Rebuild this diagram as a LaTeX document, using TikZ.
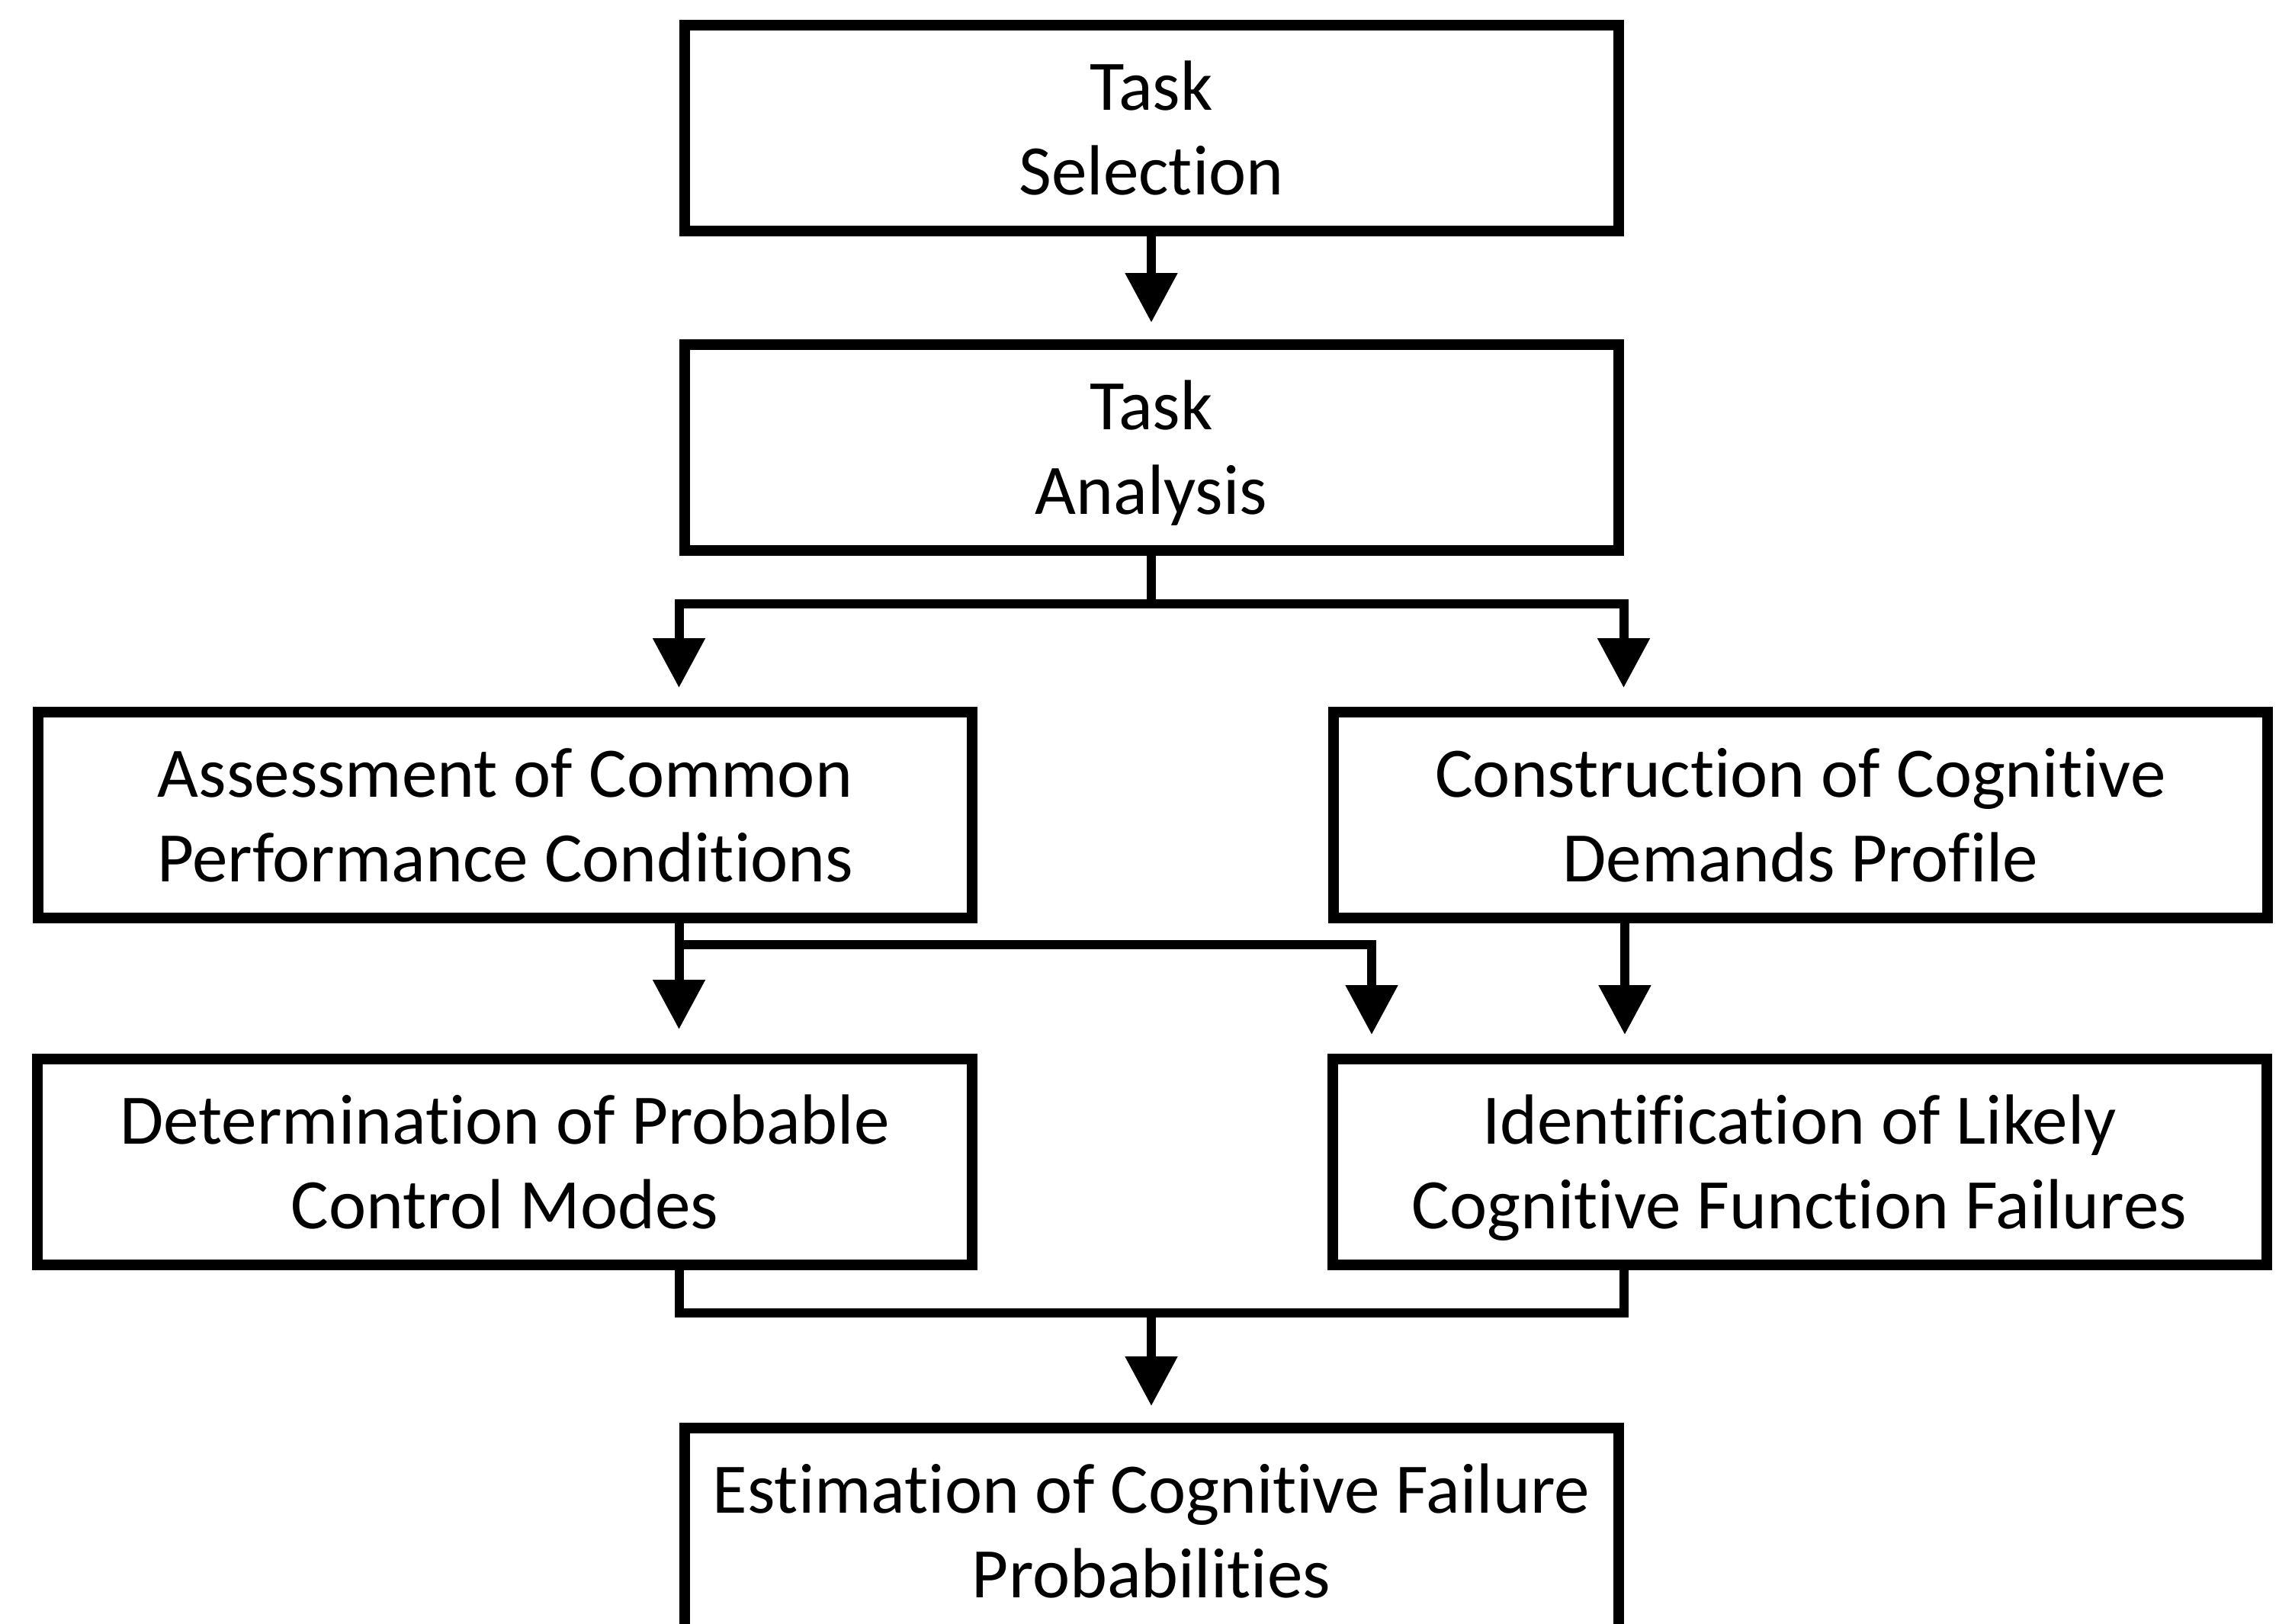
\documentclass[tikz,border=0pt]{standalone}
\usepackage{fontspec}
\setmainfont{Carlito}[Ligatures=NoCommon]
\usetikzlibrary{arrows.meta}

\begin{document}
\begin{tikzpicture}[font=\fontsize{26.5}{31.6}\selectfont,
    stage/.style={draw, line width=0.14cm, minimum width=12.25cm, minimum height=2.7cm, align=center, inner sep=0pt, text depth=0pt},
    link/.style={line width=0.12cm},
    flow/.style={link, -{Triangle[width=0.66cm,length=0.65cm]}, shorten >=0.22cm}]
  \clip (0,0) rectangle (29.89,-21.29);
  \fill[white] (0,0) rectangle (29.89,-21.29);

  % boxes
  \node[stage] (sel) at (15.10,-1.68) {Task\\Selection};
  \node[stage] (ana) at (15.10,-5.87) {Task\\Analysis};
  \node[stage] (cpc) at (6.625,-10.69) {Assessment of Common\\Performance Conditions};
  \node[stage] (cdp) at (23.615,-10.69) {Construction of Cognitive\\Demands Profile};
  \node[stage] (ctm) at (6.62,-15.24) {Determination of Probable\\Control Modes};
  \node[stage] (cff) at (23.60,-15.24) {Identification of Likely\\Cognitive Function Failures};
  \node[stage] (est) at (15.10,-20.08) {Estimation of Cognitive Failure\\Probabilities};

  \coordinate (cdpout) at (21.31,-12.04);
  \coordinate (cdpin) at (21.31,-13.89);
  \coordinate (cffin) at (17.99,-13.89);

  % connectors
  \draw[flow] (sel) -- (ana);
  \draw[flow, shorten >=0.25cm] (ana.south) -- ++(0,-0.63) coordinate (split) -| (ana.west |- cpc.north);
  \draw[flow, shorten >=0.25cm] (split) -| (ana.east |- cdp.north);
  \draw[flow, shorten >=0.32cm] (ana.west |- cpc.south) -- (ana.west |- ctm.north);
  \draw[flow, shorten >=0.32cm] (ana.west |- 0,-12.39) -| (cffin);
  \draw[flow, shorten >=0.32cm] (cdpout) -- (cdpin);
  \draw[link] (ana.west |- ctm.south) |- (ana.east |- 0,-17.22) -- (ana.east |- cff.south);
  \draw[flow] (est.north |- 0,-17.22) -- (est.north);
\end{tikzpicture}
\end{document}
